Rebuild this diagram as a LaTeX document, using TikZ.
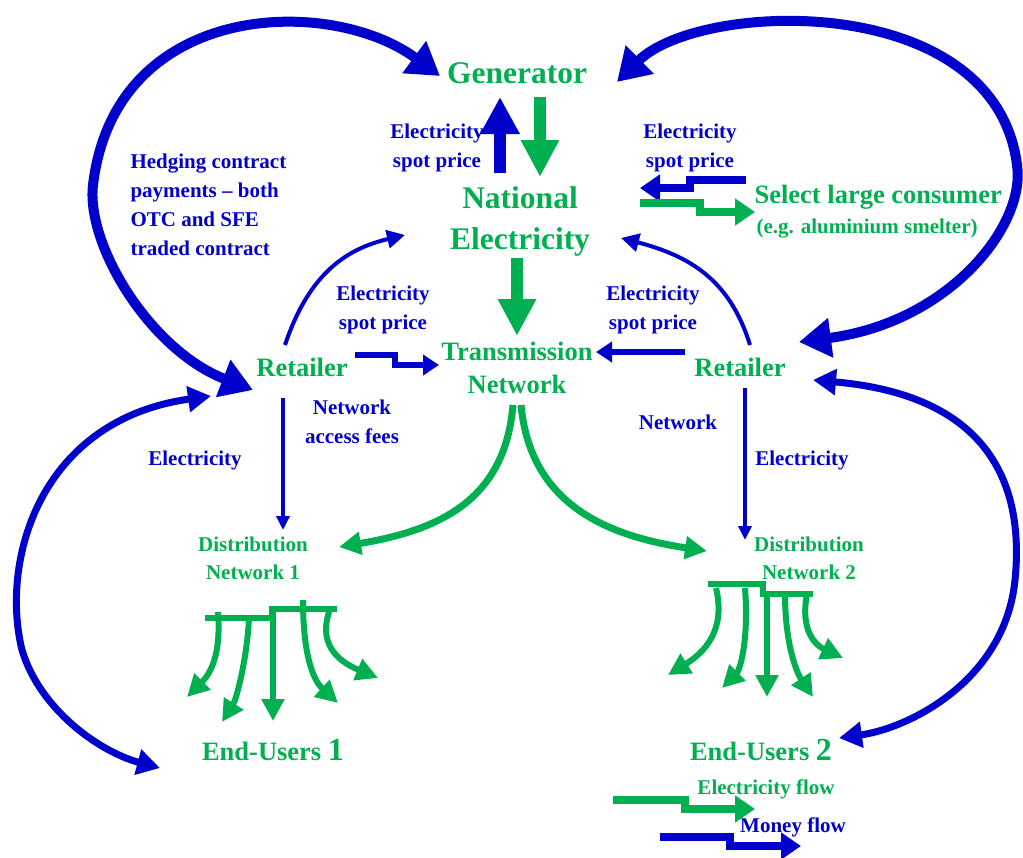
\documentclass[tikz,border=0pt]{standalone}
\usepackage{fontspec}
\setmainfont{Liberation Serif}
\usetikzlibrary{arrows.meta}
\definecolor{elgreen}{RGB}{0,176,80}
\definecolor{elblue}{RGB}{0,0,204}
\tikzset{
big green/.style={text=elgreen, align=center,
  font=\bfseries\fontsize{31.5}{41}\selectfont},
green text/.style={text=elgreen, align=center,
  font=\bfseries\fontsize{26.5}{33}\selectfont},
small green/.style={text=elgreen, align=center,
  font=\bfseries\fontsize{21}{28}\selectfont},
blue label/.style={text=elblue, align=center,
  font=\bfseries\fontsize{21}{29}\selectfont},
hedge/.style={elblue, line width=10pt, % big two-way money arrows
  {Triangle[length=32pt,width=38pt]}-{Triangle[length=32pt,width=38pt]}},
outer/.style={elblue, line width=7pt,
  {Triangle[length=23pt,width=25pt]}-{Triangle[length=23pt,width=25pt]}},
money/.style={elblue, line width=4pt, -{Triangle[length=18pt,width=18pt]}},
thin money/.style={elblue, line width=3.5pt, -{Triangle[length=14pt,width=13pt]}},
fat money/.style={elblue, line width=12pt, -{Triangle[length=37pt,width=37pt]}},
fat power/.style={elgreen, line width=12pt, -{Triangle[length=37pt,width=36pt]}},
power/.style={elgreen, line width=7pt, -{Triangle[length=22pt,width=22pt]}},
fan/.style={elgreen, line width=6pt, -{Triangle[length=22pt,width=22pt]}},
step money/.style={elblue, line width=8pt, line join=miter,
  -{Triangle[length=20pt,width=26pt]}},
step power/.style={elgreen, line width=8pt, line join=miter,
  -{Triangle[length=20pt,width=26pt]}}}

\begin{document}
\begin{tikzpicture}[x=1pt, y=-1pt]
\useasboundingbox (0,0) rectangle (1023,857);

% texts
\node[big green] (gen) at (517,73) {Generator};
\node[big green] (nem) at (520,221) {National\\Electricity};
\node[green text] (tn) at (517,368) {Transmission\\Network};
\node[green text] (retl) at (302,367) {Retailer};
\node[green text] (retr) at (740,367) {Retailer};
\node[green text, anchor=west] (slc) at (751,197) {Select large consumer};
\node[small green, anchor=west] (slcnote) at (753,229) {(e.g. aluminium smelter)};
\node[small green] (dn1) at (253,558) {Distribution\\Network 1};
\node[small green] (dn2) at (809,558) {Distribution\\Network 2};
\node[green text] (eu1) at (273,750) {End-Users {\fontsize{32}{32}\selectfont 1}};
\node[green text] (eu2) at (761,750) {End-Users {\fontsize{32}{32}\selectfont 2}};
\node[small green] (leg1) at (766,789) {Electricity flow};
\node[blue label] (leg2) at (793,827) {Money flow};

\node[blue label] (sp1) at (437,148) {Electricity\\spot price};
\node[blue label] (sp2) at (690,148) {Electricity\\spot price};
\node[blue label] (sp3) at (383,310) {Electricity\\spot price};
\node[blue label] (sp4) at (653,310) {Electricity\\spot price};
\node[blue label, align=left, anchor=west] (hedging) at (127,205)
  {Hedging contract\\payments -- both\\OTC and SFE\\traded contract};
\node[blue label] (naf) at (352,422) {Network\\access fees};
\node[blue label] (nw) at (678,422) {Network};
\node[blue label] (el1) at (195,460) {Electricity};
\node[blue label] (el2) at (802,460) {Electricity};

% arrow ends
\coordinate (gen-l) at (440,76);
\coordinate (gen-r) at (617,82);
\coordinate (gen-b1) at (500,97);
\coordinate (gen-b2) at (540,97);
\coordinate (nem-t1) at (500,173);
\coordinate (nem-t2) at (540,177);
\coordinate (nem-b) at (517,258);
\coordinate (nem-l) at (405,235);
\coordinate (nem-r) at (621,238);
\coordinate (nem-sl) at (640,188);
\coordinate (nem-sg) at (640,203);
\coordinate (slc-b) at (746,180);
\coordinate (slc-g) at (755,212);
\coordinate (tn-t) at (517,336);
\coordinate (tn-l) at (439,365);
\coordinate (tn-r) at (596,352);
\coordinate (tn-b1) at (513,405);
\coordinate (tn-b2) at (521,405);
\coordinate (retl-w) at (211,396);
\coordinate (retl-nw) at (253,390);
\coordinate (retl-n) at (285,345);
\coordinate (retl-e) at (355,355);
\coordinate (retl-s) at (283,398);
\coordinate (retr-e) at (813,380);
\coordinate (retr-ne) at (799,342);
\coordinate (retr-n) at (750,345);
\coordinate (retr-w) at (685,352);
\coordinate (retr-s) at (745,388);
\coordinate (dn1-t) at (283,530);
\coordinate (dn1-e) at (339,547);
\coordinate (dn2-t) at (745,540);
\coordinate (dn2-w) at (707,551);
\coordinate (eu1-w) at (160,768);
\coordinate (eu2-e) at (839,738);

% money between generator and retailers
\draw[hedge] (gen-l) .. controls (330,-5) and (115,0) .. (93,185)
  .. controls (86,245) and (150,350) .. (retl-nw);
\draw[hedge] (gen-r) .. controls (700,0) and (995,-10) .. (1017,165)
  .. controls (1026,225) and (950,322) .. (retr-ne);
% money between retailers and end-users
\draw[outer] (retl-w) .. controls (40,420) and (0,560) .. (22,650)
  .. controls (40,710) and (100,752) .. (eu1-w);
\draw[outer] (retr-e) .. controls (985,395) and (1025,480) .. (1015,580)
  .. controls (1005,680) and (910,728) .. (eu2-e);

% generator and pool
\draw[fat money] (nem-t1) -- (gen-b1);
\draw[fat power] (gen-b2) -- (nem-t2);
\draw[fat power] (nem-b) -- (tn-t);
\draw[money] (retl-n) .. controls (310,270) and (350,248) .. (nem-l);
\draw[money] (retr-n) .. controls (730,280) and (690,256) .. (nem-r);

% select large consumer
\draw[step money] (slc-b) -- (690,180) -- (690,188) -- (nem-sl);
\draw[step power] (nem-sg) -- (700,203) -- (700,212) -- (slc-g);

% network fees
\draw[step money, line width=6pt, -{Triangle[length=16pt,width=20pt]}]
  (retl-e) -- (395,355) -- (395,365) -- (tn-l);
\draw[step money, line width=6pt, -{Triangle[length=16pt,width=20pt]}]
  (retr-w) -- (tn-r);
\draw[thin money] (retl-s) -- (dn1-t);
\draw[thin money] (retr-s) -- (dn2-t);

% transmission to distribution
\draw[power] (tn-b1) .. controls (505,500) and (440,530) .. (dn1-e);
\draw[power] (tn-b2) .. controls (530,500) and (600,535) .. (dn2-w);

% distribution network 1 to end-users
\draw[elgreen, line width=6pt] (205,618) -- (272,618) -- (272,609) -- (337,609);
\draw[fan] (218,612) .. controls (221,652) and (212,672) .. (187,697);
\draw[fan] (249,618) .. controls (247,660) and (236,700) .. (222,722);
\draw[fan] (273,612) -- (273,721);
\draw[fan] (303,600) .. controls (303,660) and (315,682) .. (338,703);
\draw[fan] (330,609) .. controls (318,642) and (335,660) .. (378,678);

% distribution network 2 to end-users
\draw[elgreen, line width=6pt] (708,584) -- (763,584) -- (763,594) -- (813,594);
\draw[fan] (716,588) .. controls (726,630) and (705,652) .. (668,675);
\draw[fan] (745,588) .. controls (749,640) and (740,670) .. (722,688);
\draw[fan] (767,594) -- (767,697);
\draw[fan] (785,594) .. controls (785,640) and (795,670) .. (813,697);
\draw[fan] (807,594) .. controls (800,630) and (815,645) .. (843,658);

% legend
\coordinate (leg1-s) at (613,800);
\coordinate (leg2-s) at (660,837);
\draw[step power] (leg1-s) -- (685,800) -- (685,809) -- (755,809);
\draw[step money] (leg2-s) -- (730,837) -- (730,846) -- (801,846);
\end{tikzpicture}
\end{document}
